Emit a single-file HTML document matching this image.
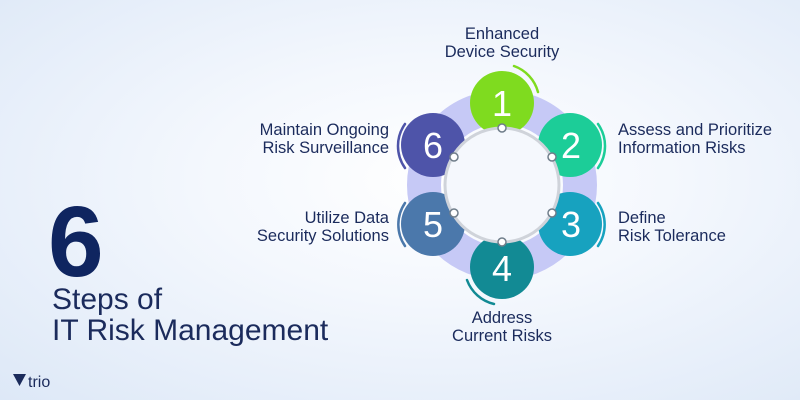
<!DOCTYPE html>
<html><head><meta charset="utf-8"><style>
html,body{margin:0;padding:0;width:800px;height:400px;overflow:hidden}
body{background:radial-gradient(ellipse at 55% 45%,#ffffff 0%,#f3f7fd 40%,#dde8f7 100%);font-family:"Liberation Sans",sans-serif}
</style></head><body>
<svg width="800" height="400" xmlns="http://www.w3.org/2000/svg" style="position:absolute;left:0;top:0">
<g fill="none">
<circle cx="502" cy="185" r="78" stroke="#c6c9f6" stroke-width="34"/>
</g>
<g>
<circle cx="502" cy="103" r="32" fill="#7fdb1f"/>
<circle cx="570" cy="145" r="32" fill="#1ccd98"/>
<circle cx="570" cy="224" r="32" fill="#17a2bf"/>
<circle cx="502" cy="267" r="32" fill="#128a94"/>
<circle cx="433" cy="224" r="32" fill="#4b78ab"/>
<circle cx="433" cy="145" r="32" fill="#4e54a9"/>
</g>
<circle cx="502" cy="185" r="57" fill="#f5f8fd" stroke="#cfd3da" stroke-width="3"/>
<g fill="#fff" stroke="#6f7d8a" stroke-width="1.5">
<circle cx="502" cy="128" r="4"/><circle cx="552" cy="157" r="4"/><circle cx="552" cy="213" r="4"/>
<circle cx="502" cy="242" r="4"/><circle cx="454" cy="213" r="4"/><circle cx="454" cy="157" r="4"/>
</g>
<g fill="none" stroke-width="2.5" stroke-linecap="round">
<path d="M514 66 A38 38 0 0 1 538 92" stroke="#7fdb1f"/>
<path d="M598 124 A38 38 0 0 1 598 168" stroke="#1ccd98"/>
<path d="M598 203 A38 38 0 0 1 598 246" stroke="#17a2bf"/>
<path d="M467 280 A38 38 0 0 0 494 304" stroke="#128a94"/>
<path d="M405 203 A38 38 0 0 0 405 246" stroke="#4b78ab"/>
<path d="M405 124 A38 38 0 0 0 405 168" stroke="#4e54a9"/>
</g>
<g fill="#fff" font-size="36" text-anchor="middle" font-family="Liberation Sans, sans-serif">
<text x="502" y="116">1</text><text x="571" y="158">2</text><text x="571" y="237">3</text>
<text x="502" y="281">4</text><text x="433" y="237">5</text><text x="433" y="158">6</text>
</g>
<g fill="#1b2b5c" font-size="16.5" font-family="Liberation Sans, sans-serif">
<text x="502" y="39" text-anchor="middle">Enhanced</text>
<text x="502" y="57" text-anchor="middle">Device Security</text>
<text x="618" y="135">Assess and Prioritize</text>
<text x="618" y="153">Information Risks</text>
<text x="618" y="223">Define</text>
<text x="618" y="241">Risk Tolerance</text>
<text x="502" y="323" text-anchor="middle">Address</text>
<text x="502" y="341" text-anchor="middle">Current Risks</text>
<text x="389" y="135" text-anchor="end">Maintain Ongoing</text>
<text x="389" y="153" text-anchor="end">Risk Surveillance</text>
<text x="389" y="223" text-anchor="end">Utilize Data</text>
<text x="389" y="241" text-anchor="end">Security Solutions</text>
</g>
<text x="48" y="276" fill="#0f2560" font-size="100" font-weight="bold" font-family="Liberation Sans, sans-serif">6</text>
<g fill="#1b2b5c" font-size="30" font-family="Liberation Sans, sans-serif">
<text x="52" y="309">Steps of</text>
<text x="52" y="340">IT Risk Management</text>
</g>
<path d="M13 374 L26 374 L19.5 386 Z" fill="#1b2b5c"/>
<text x="28" y="387" fill="#1b2b5c" font-size="16" font-family="Liberation Sans, sans-serif">trio</text>
</svg>
</body></html>
